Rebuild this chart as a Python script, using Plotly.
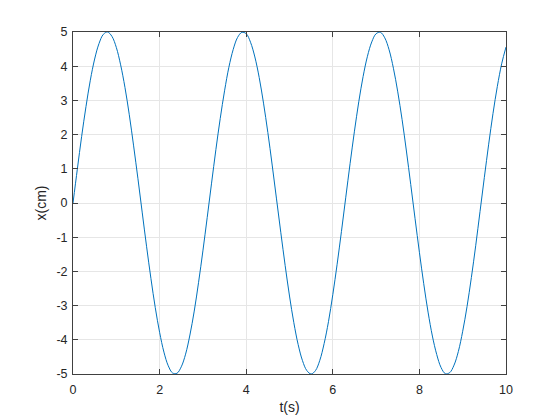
import plotly.graph_objects as go

# time (s), step 0.1
t = [round(i * 0.1, 1) for i in range(101)]

# displacement x (cm)
x = [0.00, 0.99, 1.95, 2.82, 3.59, 4.21, 4.66, 4.93, 5.00, 4.87,
     4.55, 4.04, 3.38, 2.58, 1.67, 0.71, -0.29, -1.28, -2.21, -3.06,
     -3.78, -4.36, -4.76, -4.97, -4.98, -4.79, -4.42, -3.86, -3.16, -2.32,
     -1.40, -0.42, 0.58, 1.56, 2.47, 3.28, 3.97, 4.49, 4.84, 4.99,
     4.95, 4.70, 4.27, 3.67, 2.92, 2.06, 1.11, 0.12, -0.87, -1.83,
     -2.72, -3.50, -4.14, -4.61, -4.90, -5.00, -4.90, -4.60, -4.11, -3.47,
     -2.68, -1.79, -0.83, 0.17, 1.16, 2.10, 2.96, 3.70, 4.29, 4.71,
     4.95, 4.99, 4.83, 4.48, 3.94, 3.25, 2.44, 1.52, 0.54, -0.46,
     -1.44, -2.36, -3.19, -3.89, -4.43, -4.81, -4.99, -4.96, -4.74, -4.34,
     -3.75, -3.03, -2.18, -1.25, -0.25, 0.75, 1.72, 2.62, 3.41, 4.07,
     4.56]

x_ticks = [0, 2, 4, 6, 8, 10]
y_ticks = [-5, -4, -3, -2, -1, 0, 1, 2, 3, 4, 5]
y_labels = [str(v) for v in y_ticks]  # plain hyphen, not unicode minus

fig = go.Figure(go.Scatter(x=t, y=x, mode='lines', line_shape='spline',
                           line=dict(color='#0072BD', width=1)))

axis_style = dict(showline=True, linecolor='#404040', linewidth=1,
                  mirror='ticks', ticks='inside', ticklen=5, tickcolor='#404040',
                  showgrid=True, gridcolor='#e6e6e6', gridwidth=1, zeroline=False,
                  automargin=False, tickfont=dict(size=12.5, color='#262626'))

fig.update_xaxes(range=[0, 10], tickvals=x_ticks, title_text='t(s)',
                 title_font=dict(size=14, color='#262626'), title_standoff=6,
                 ticklabelstandoff=4, **axis_style)
fig.update_yaxes(range=[-5, 5], tickvals=y_ticks, ticktext=y_labels,
                 title_text='x(cm)',
                 title_font=dict(size=14, color='#262626'), title_standoff=6,
                 ticklabelstandoff=2, **axis_style)

# page has an 8px body margin, so the figure is shrunk by 8px on each axis
fig.update_layout(width=551, height=412, template='simple_white',
                  font=dict(family='Liberation Sans, Arial, sans-serif'),
                  margin=dict(l=65, r=53, t=24, b=46),
                  plot_bgcolor='white', paper_bgcolor='white', showlegend=False)

fig.write_html("out.html")
